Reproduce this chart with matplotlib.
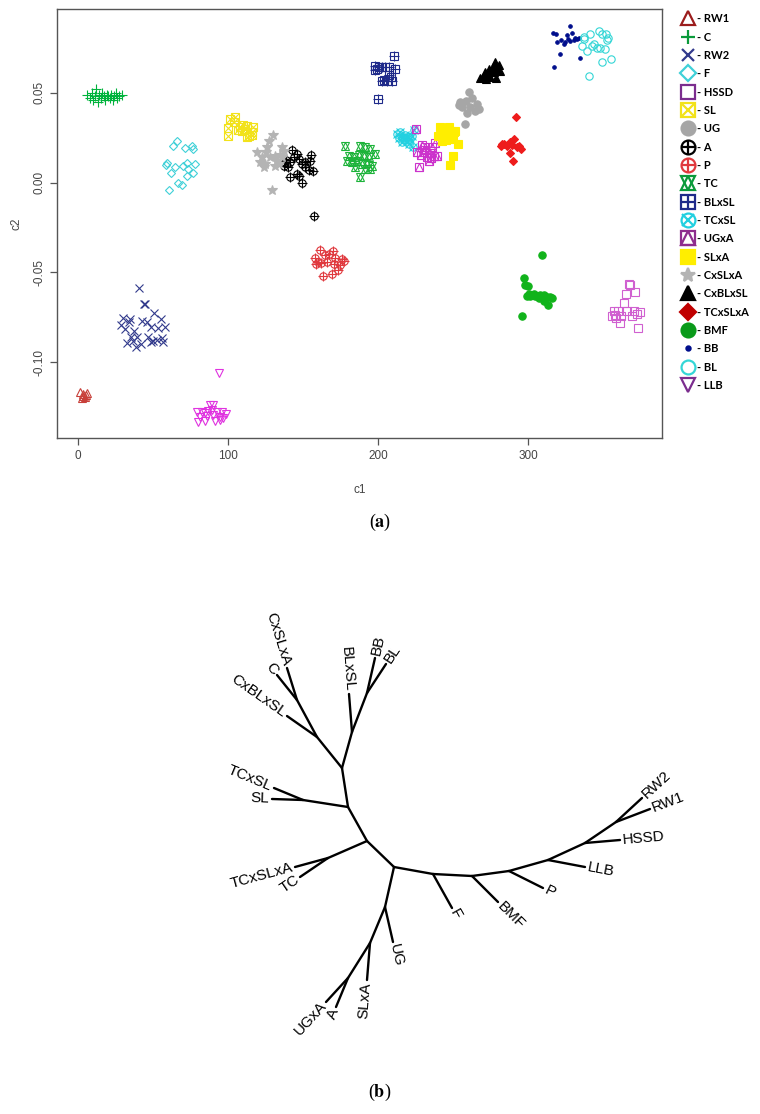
import numpy as np
import matplotlib
matplotlib.use("Agg")
import matplotlib.pyplot as plt
from matplotlib.lines import Line2D
from matplotlib.legend_handler import HandlerTuple

plt.rcParams['font.family'] = ['Liberation Sans', 'DejaVu Sans']
plt.rcParams['mathtext.fontset'] = 'stix'

# ---- (a) PCA-like scatter: c1 / c2 per breed ----
RW1_x = [1.3, 3.5, 6.2, 2.5, 4.7, 5.3, 3.0]
RW1_y = [-0.1165, -0.1178, -0.1170, -0.1198, -0.1193, -0.1183, -0.1190]

C_x = [6, 8, 9, 10, 11, 12, 13, 14, 15, 16, 17, 18, 19, 20, 21, 22, 23, 24, 25, 26, 27, 29]
C_y = [0.049, 0.047, 0.050, 0.046, 0.048, 0.052, 0.045, 0.049, 0.047, 0.050, 0.048,
       0.046, 0.049, 0.048, 0.047, 0.049, 0.046, 0.048, 0.050, 0.047, 0.048, 0.049]

RW2_x = [40.9, 44.0, 44.9, 50.9, 29.8, 34.7, 28.4, 31.3, 34.2, 42.4, 45.8, 48.7, 55.1, 53.6,
         58.0, 37.6, 35.1, 39.1, 32.4, 38.7, 41.8, 46.9, 48.4, 50.2, 52.4, 55.8, 56.9, 36.4]
RW2_y = [-0.0585, -0.0674, -0.0678, -0.0726, -0.0757, -0.0759, -0.0794, -0.0818, -0.0776,
         -0.0772, -0.0776, -0.0804, -0.0763, -0.0813, -0.0807, -0.0828, -0.0863, -0.0859,
         -0.0896, -0.0915, -0.0900, -0.0863, -0.0887, -0.0881, -0.0878, -0.0868, -0.0887, -0.0881]

F_x = [65.8, 63.6, 71.3, 75.8, 76.4, 59.1, 61.8, 64.7, 69.8, 72.4, 78.0, 73.6, 76.4, 72.4,
       66.9, 69.1, 60.9, 58.7]
F_y = [0.0230, 0.0202, 0.0191, 0.0202, 0.0187, 0.0109, 0.0054, 0.0085, 0.0091, 0.0109,
       0.0104, 0.0076, 0.0052, 0.0035, -0.0002, -0.0013, -0.0041, 0.0100]

HSSD_x = [366.9, 368.0, 365.1, 370.9, 364.0, 356.9, 359.6, 365.8, 370.2, 374.2, 355.8,
          358.7, 361.8, 369.1, 372.4, 360.9, 373.1, 358.0]
HSSD_y = [-0.0563, -0.0572, -0.0619, -0.0609, -0.0670, -0.0717, -0.0715, -0.0717, -0.0715,
          -0.0720, -0.0744, -0.0757, -0.0744, -0.0744, -0.0733, -0.0781, -0.0809, -0.0739]

SL_x = [101.3, 104.7, 103.6, 108.0, 110.2, 112.9, 116.9, 100.2, 106.9, 111.3, 115.8,
        113.6, 112.4, 100.2, 115.8, 109.1]
SL_y = [0.0354, 0.0363, 0.0335, 0.0311, 0.0322, 0.0317, 0.0307, 0.0302, 0.0293, 0.0298,
        0.0280, 0.0261, 0.0252, 0.0261, 0.0267, 0.0289]

UG_x = [260.2, 262.4, 258.7, 254.7, 255.8, 260.9, 265.8, 266.9, 264.7, 259.1, 257.6, 254.0]
UG_y = [0.0502, 0.0470, 0.0456, 0.0446, 0.0422, 0.0422, 0.0437, 0.0409, 0.0400, 0.0385,
        0.0326, 0.0433]

A_x = [142.4, 145.8, 143.6, 138.7, 141.3, 146.9, 136.9, 139.6, 149.1, 151.3, 155.1, 154.7,
       153.6, 156.4, 141.3, 145.8, 146.9, 149.1, 156.9, 138.0, 151.3]
A_y = [0.0181, 0.0159, 0.0141, 0.0126, 0.0113, 0.0131, 0.0094, 0.0085, 0.0104, 0.0085,
       0.0156, 0.0122, 0.0067, 0.0063, 0.0030, 0.0048, 0.0039, -0.0004, -0.0187, 0.0113, 0.0113]

P_x = [160.9, 169.8, 158.0, 164.7, 166.9, 171.3, 175.8, 158.7, 161.8, 165.8, 170.2, 174.7,
       172.9, 163.1, 169.1, 176.9, 160.2]
P_y = [-0.0378, -0.0381, -0.0419, -0.0406, -0.0396, -0.0419, -0.0424, -0.0456, -0.0448,
       -0.0443, -0.0456, -0.0461, -0.0489, -0.0522, -0.0511, -0.0437, -0.0443]

TC_x = [178.0, 188.0, 191.3, 194.7, 180.2, 183.6, 186.9, 190.2, 193.6, 198.0, 179.1, 182.4,
        185.8, 189.1, 192.4, 195.8, 184.7, 194.7, 188.0, 191.3]
TC_y = [0.0202, 0.0206, 0.0196, 0.0187, 0.0150, 0.0141, 0.0156, 0.0150, 0.0141, 0.0159,
        0.0122, 0.0113, 0.0119, 0.0104, 0.0107, 0.0094, 0.0085, 0.0076, 0.0030, 0.0076]

BLxSL_x = [210.2, 198.0, 200.2, 202.4, 204.7, 206.9, 211.3, 198.0, 207.3, 208.4, 203.6,
           205.8, 209.1, 202.4, 199.6, 199.1]
BLxSL_y = [0.0706, 0.0650, 0.0641, 0.0644, 0.0641, 0.0641, 0.0635, 0.0628, 0.0600, 0.0589,
           0.0572, 0.0567, 0.0563, 0.0563, 0.0463, 0.0631]

TCxSL_x = [212.4, 214.7, 215.8, 218.0, 220.2, 222.4, 213.6, 216.9, 219.1, 221.3, 223.6,
           215.8, 220.2, 223.1, 218.0]
TCxSL_y = [0.0270, 0.0280, 0.0256, 0.0267, 0.0252, 0.0261, 0.0248, 0.0237, 0.0233, 0.0243,
           0.0293, 0.0224, 0.0215, 0.0196, 0.0248]

UGxA_x = [225.3, 229.1, 231.3, 235.8, 238.0, 225.8, 230.2, 234.2, 236.9, 239.1, 232.4,
          235.1, 228.4, 227.1, 233.8, 230.7]
UGxA_y = [0.0298, 0.0211, 0.0196, 0.0196, 0.0219, 0.0169, 0.0169, 0.0163, 0.0150, 0.0146,
          0.0141, 0.0137, 0.0156, 0.0089, 0.0122, 0.0181]

SLxA_x = [241.3, 244.0, 246.9, 241.8, 244.7, 248.4, 251.3, 239.8, 243.1, 246.9, 249.8,
          245.3, 248.0, 252.9, 249.8, 247.6, 242.4, 250.7]
SLxA_y = [0.0307, 0.0298, 0.0311, 0.0274, 0.0270, 0.0285, 0.0289, 0.0261, 0.0252, 0.0261,
          0.0261, 0.0237, 0.0243, 0.0215, 0.0150, 0.0100, 0.0233, 0.0280]

CxSLxA_x = [130.2, 126.9, 125.8, 135.8, 119.1, 122.4, 128.0, 131.3, 134.7, 121.3, 124.7,
            132.4, 135.8, 133.6, 131.3, 123.6, 129.1, 137.3, 125.3]
CxSLxA_y = [0.0267, 0.0233, 0.0196, 0.0196, 0.0169, 0.0141, 0.0144, 0.0150, 0.0156, 0.0113,
            0.0104, 0.0122, 0.0141, 0.0104, 0.0094, 0.0085, -0.0044, 0.0178, 0.0169]

CxBLxSL_x = [278.0, 280.2, 276.4, 279.1, 273.6, 275.1, 277.3, 280.9, 271.3, 272.9, 269.8,
             272.0, 274.7, 278.7, 268.0]
CxBLxSL_y = [0.0669, 0.0656, 0.0644, 0.0631, 0.0631, 0.0622, 0.0613, 0.0622, 0.0613, 0.0600,
             0.0589, 0.0576, 0.0589, 0.0581, 0.0580]

TCxSLxA_x = [292.0, 290.7, 288.0, 283.6, 281.8, 285.8, 289.1, 293.6, 295.1, 292.4, 287.6,
             289.8, 282.4]
TCxSLxA_y = [0.0367, 0.0243, 0.0224, 0.0215, 0.0206, 0.0202, 0.0211, 0.0202, 0.0187, 0.0196,
             0.0163, 0.0122, 0.0215]

BMF_x = [309.1, 296.9, 297.6, 299.6, 300.2, 302.4, 304.0, 305.8, 308.0, 310.2, 312.4,
         314.7, 315.8, 299.1, 301.3, 310.7, 312.9, 295.8, 304.7, 306.9]
BMF_y = [-0.0406, -0.0531, -0.0569, -0.0578, -0.0619, -0.0628, -0.0619, -0.0633, -0.0628,
         -0.0628, -0.0637, -0.0637, -0.0641, -0.0633, -0.0633, -0.0659, -0.0683, -0.0744,
         -0.0633, -0.0641]

BB_x = [328.0, 316.4, 318.7, 329.1, 325.8, 331.3, 333.6, 319.1, 321.8, 324.7, 327.6, 330.2,
        323.6, 321.3, 334.2, 317.1, 332.4, 326.2]
BB_y = [0.0872, 0.0835, 0.0826, 0.0835, 0.0820, 0.0807, 0.0804, 0.0785, 0.0793, 0.0780,
        0.0789, 0.0793, 0.0770, 0.0715, 0.0696, 0.0641, 0.0798, 0.0802]

BL_x = [337.1, 340.9, 347.1, 349.3, 352.0, 353.3, 335.8, 339.1, 342.4, 344.0, 345.8, 348.0,
        351.3, 352.4, 349.1, 355.1, 340.2, 336.9]
BL_y = [0.0811, 0.0826, 0.0844, 0.0830, 0.0826, 0.0804, 0.0761, 0.0733, 0.0761, 0.0774,
        0.0752, 0.0752, 0.0743, 0.0793, 0.0669, 0.0687, 0.0594, 0.0798]

LLB_x = [93.6, 88.0, 90.2, 79.1, 82.4, 84.7, 86.9, 92.4, 95.8, 98.7, 81.3, 85.8, 90.2, 94.7,
         96.9, 79.8, 84.7, 91.3, 94.7, 89.1]
LLB_y = [-0.1059, -0.1239, -0.1239, -0.1281, -0.1276, -0.1285, -0.1270, -0.1276, -0.1276,
         -0.1289, -0.1304, -0.1300, -0.1294, -0.1307, -0.1313, -0.1335, -0.1326, -0.1331,
         -0.1322, -0.1267]

# legend order, colours and R-like plotting symbols (marker, filled?)
groups = ['RW1', 'C', 'RW2', 'F', 'HSSD', 'SL', 'UG', 'A', 'P', 'TC', 'BLxSL', 'TCxSL',
          'UGxA', 'SLxA', 'CxSLxA', 'CxBLxSL', 'TCxSLxA', 'BMF', 'BB', 'BL', 'LLB']
data = {'RW1': (RW1_x, RW1_y), 'C': (C_x, C_y), 'RW2': (RW2_x, RW2_y), 'F': (F_x, F_y),
        'HSSD': (HSSD_x, HSSD_y), 'SL': (SL_x, SL_y), 'UG': (UG_x, UG_y), 'A': (A_x, A_y),
        'P': (P_x, P_y), 'TC': (TC_x, TC_y), 'BLxSL': (BLxSL_x, BLxSL_y),
        'TCxSL': (TCxSL_x, TCxSL_y), 'UGxA': (UGxA_x, UGxA_y), 'SLxA': (SLxA_x, SLxA_y),
        'CxSLxA': (CxSLxA_x, CxSLxA_y), 'CxBLxSL': (CxBLxSL_x, CxBLxSL_y),
        'TCxSLxA': (TCxSLxA_x, TCxSLxA_y), 'BMF': (BMF_x, BMF_y), 'BB': (BB_x, BB_y),
        'BL': (BL_x, BL_y), 'LLB': (LLB_x, LLB_y)}
colors = {'RW1': '#c8403a', 'C': '#00b33c', 'RW2': '#323a8c', 'F': '#3fd0d8',
          'HSSD': '#d060d0', 'SL': '#f2e21a', 'UG': '#a6a6a6', 'A': '#000000',
          'P': '#e0393e', 'TC': '#1db33a', 'BLxSL': '#1f2a8a', 'TCxSL': '#22d0e0',
          'UGxA': '#cc33cc', 'SLxA': '#ffee00', 'CxSLxA': '#b4b4b4', 'CxBLxSL': '#000000',
          'TCxSLxA': '#ee1c1c', 'BMF': '#11b31b', 'BB': '#000e8c', 'BL': '#33d6d6',
          'LLB': '#e033e0'}
# legend swatches are a little darker than the plotted points
legend_colors = dict(colors, RW1='#9b1c1c', HSSD='#7b2d8e', UGxA='#8e2d8e', LLB='#7b2d8e',
                     TCxSLxA='#c00000', BMF='#0a9a1a', C='#0a9a3a', TC='#0a9a3a')
symbols = {'RW1': [('^', False)], 'C': [('+', True)], 'RW2': [('x', True)],
           'F': [('D', False)], 'HSSD': [('s', False)], 'SL': [('s', False), ('x', True)],
           'UG': [('o', True)], 'A': [('o', False), ('+', True)], 'P': [('o', False), ('+', True)],
           'TC': [('^', False), ('v', False)], 'BLxSL': [('s', False), ('+', True)],
           'TCxSL': [('o', False), ('x', True)], 'UGxA': [('s', False), ('^', False)],
           'SLxA': [('s', True)], 'CxSLxA': [('*', True)], 'CxBLxSL': [('^', True)],
           'TCxSLxA': [('D', True)], 'BMF': [('o', True)], 'BB': [('.', True)],
           'BL': [('o', False)], 'LLB': [('v', False)]}

fig = plt.figure(figsize=(7.6, 11.14), dpi=100)
ax = fig.add_axes([0.075, 0.607, 0.796, 0.385])

def size_of(m):
    return {'.': 5, 'D': 4.4, '*': 7, '+': 6.5, 'x': 5.2}.get(m, 5.3)

for g in groups:
    xs, ys = data[g]
    for m, filled in symbols[g]:
        ax.plot(xs, ys, ls='none', marker=m, ms=size_of(m), mew=0.8, color=colors[g],
                mfc=colors[g] if filled else 'none')

ax.set_xlim(-14, 389)
ax.set_ylim(-0.1422, 0.0967)
ax.set_xticks([0, 100, 200, 300])
ax.set_yticks([-0.10, -0.05, 0.00, 0.05])
ax.set_yticklabels(['-0.10', '-0.05', '0.00', '0.05'], rotation=90, va='center')
for s in ax.spines.values():
    s.set_color('#555555')
    s.set_linewidth(1.0)
ax.tick_params(colors='#555555', labelcolor='#444444', labelsize=8.5, length=5, width=0.9)
ax.set_xlabel('c1', fontsize=8.5, color='#444444', labelpad=16)
ax.set_ylabel('c2', fontsize=8.5, color='#444444', labelpad=8)

handles = []
for g in groups:
    parts = []
    for m, filled in symbols[g]:
        ms = {'.': 6, 'D': 8, 'x': 9}.get(m, 10)
        parts.append(Line2D([], [], ls='none', marker=m, ms=ms, mew=1.6,
                            color=legend_colors[g],
                            mfc=legend_colors[g] if filled else 'none'))
    handles.append(tuple(parts))
fig.legend(handles, ['- ' + g for g in groups], loc='upper left',
           bbox_to_anchor=(0.897, 0.988), frameon=False, handlelength=1.1,
           handletextpad=0.25, borderpad=0, borderaxespad=0, labelspacing=0.66,
           prop={'family': 'Lato', 'weight': 'bold', 'size': 8},
           handler_map={tuple: HandlerTuple(ndivide=1, pad=0)})

fig.text(0.5, 1 - 522 / 1114, r'(${\bf a}$)', ha='center', va='center', fontsize=13,
         family='Liberation Serif')
fig.text(0.5, 1 - 1092 / 1114, r'(${\bf b}$)', ha='center', va='center', fontsize=13,
         family='Liberation Serif')

# ---- (b) unrooted tree, node positions in picture units ----
nodes = {
    'n0': (394, 867), 'n1': (367, 841), 'n2': (348, 807), 'n3': (342, 768),
    'nCg': (317, 737), 'nC': (297, 700), 'nBL': (352, 732), 'nBB': (367, 693),
    'nSL': (303, 800), 'nTC': (328, 858), 'nUG': (385, 907), 'nSLxA': (370, 943),
    'nA': (348, 978), 'nF': (433, 874), 'nBMF': (472, 876), 'nP': (509, 871),
    'nLLB': (548, 860), 'nHSSD': (585, 843), 'nRW': (616, 822),
    'CxSLxA': (287, 668), 'C': (277, 675), 'CxBLxSL': (287, 716), 'BLxSL': (349, 694),
    'BB': (375, 658), 'BL': (386, 664), 'TCxSL': (274, 788), 'SL': (272, 799),
    'TCxSLxA': (295, 867), 'TC': (300, 877), 'UG': (393, 942), 'SLxA': (367, 980),
    'UGxA': (326, 1002), 'A': (336, 1007), 'F': (452, 908), 'BMF': (498, 902),
    'P': (543, 888), 'LLB': (585, 867), 'HSSD': (620, 840), 'RW2': (642, 798),
    'RW1': (650, 809),
}
edges = [('n0', 'n1'), ('n1', 'n2'), ('n2', 'n3'), ('n3', 'nCg'), ('nCg', 'nC'),
         ('n3', 'nBL'), ('nBL', 'nBB'), ('n2', 'nSL'), ('n1', 'nTC'), ('n0', 'nUG'),
         ('nUG', 'nSLxA'), ('nSLxA', 'nA'), ('n0', 'nF'), ('nF', 'nBMF'), ('nBMF', 'nP'),
         ('nP', 'nLLB'), ('nLLB', 'nHSSD'), ('nHSSD', 'nRW'),
         ('nC', 'CxSLxA'), ('nC', 'C'), ('nCg', 'CxBLxSL'), ('nBL', 'BLxSL'),
         ('nBB', 'BB'), ('nBB', 'BL'), ('nSL', 'TCxSL'), ('nSL', 'SL'),
         ('nTC', 'TCxSLxA'), ('nTC', 'TC'), ('nUG', 'UG'), ('nSLxA', 'SLxA'),
         ('nA', 'UGxA'), ('nA', 'A'), ('nF', 'F'), ('nBMF', 'BMF'), ('nP', 'P'),
         ('nLLB', 'LLB'), ('nHSSD', 'HSSD'), ('nRW', 'RW2'), ('nRW', 'RW1')]

axt = fig.add_axes([0, 0, 1, (1114 - 540) / 1114])
axt.set_xlim(0, 760)
axt.set_ylim(1114, 540)
axt.axis('off')
for a, b in edges:
    (x0, y0), (x1, y1) = nodes[a], nodes[b]
    axt.plot([x0, x1], [y0, y1], color='black', lw=1.7, solid_capstyle='round')
    if not b.startswith('n'):
        dx, dy = x1 - x0, y1 - y0
        ang = np.degrees(np.arctan2(-dy, dx))
        L = np.hypot(dx, dy)
        tx, ty = x1 + 2.5 * dx / L, y1 + 2.5 * dy / L
        if -90 <= ang <= 90:
            axt.text(tx, ty, b, rotation=ang, rotation_mode='anchor', ha='left',
                     va='center', fontsize=11)
        else:
            axt.text(tx, ty, b, rotation=ang - 180, rotation_mode='anchor', ha='right',
                     va='center', fontsize=11)

fig.savefig('out.png', dpi=100)
